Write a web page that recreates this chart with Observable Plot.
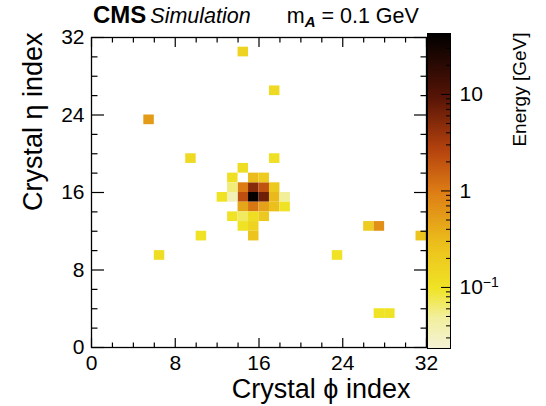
<!DOCTYPE html>
<html><head><meta charset="utf-8">
<script src="https://cdn.jsdelivr.net/npm/d3@7"></script>
<script src="https://cdn.jsdelivr.net/npm/@observablehq/plot@0.6"></script>
<style>
body{margin:0;background:#fff;}
#wrap{position:relative;z-index:0;width:546px;height:406px;font-family:"Liberation Sans",Arial,sans-serif;overflow:hidden;}
#wrap svg.under{position:absolute;top:0;z-index:-1;}
#hdr{position:absolute;left:93px;top:1px;display:flex;align-items:baseline;white-space:nowrap;color:#000;}
#hdr .cms{font-weight:bold;font-size:24px;}
#hdr .sim{font-style:italic;font-size:21.5px;margin-left:4px;}
#hdr .ma{font-size:21.5px;margin-left:36px;}
#hdr sub{font-size:15px;font-weight:bold;font-style:italic;vertical-align:-4px;}
</style></head><body>
<div id="wrap"><div id="hdr"><span class="cms">CMS</span><span class="sim">Simulation</span><span class="ma">m<sub>A</sub> = 0.1 GeV</span></div></div>
<script>
// ---- data ----
const phiIndex = [15,16,15,14,16,14,15,14,16,17,17,17,15,16,13,13,13,12,18,18,14,17,9,5,17,14,13,14,15,16,14,15,15,10,6,23,26,27,31,27,28];
const etaIndex = [15,15,16,15,16,16,14,14,14,15,16,14,17,17,17,16,15,15,15,14,18,19,19,23,26,30,13,13,13,13,12,12,11,11,9,9,12,12,11,3,3];
const energy   = [40,7,5,2.2,2.0,1.0,1.1,0.45,0.5,0.32,0.22,0.28,0.3,0.2,0.11,0.06,0.035,0.1,0.05,0.1,0.12,0.11,0.13,0.55,0.13,0.16,0.1,0.07,0.12,0.22,0.1,0.16,0.25,0.1,0.12,0.1,0.2,0.7,0.25,0.1,0.1];
const majorTicks = [0,8,16,24,32];
const minorTicks = [2,4,6,10,12,14,18,20,22,26,28,30];
const zDomain = [0.0233, 42.8];
const zMajor = [0.1,1,10];
const zMinor = [0.03,0.04,0.05,0.06,0.07,0.08,0.09,0.2,0.3,0.4,0.5,0.6,0.7,0.8,0.9,2,3,4,5,6,7,8,9,20,30,40];
const paletteStops = [0,0.1,0.19,0.33,0.5,0.63,0.8,1];
const paletteColors = ["#f4f2d6","#f2ef9c","#f0e426","#ecc01c","#dd7c15","#b5430e","#561406","#000000"];

const FONT = "Liberation Sans, Arial, sans-serif";
function interp(t){
  t = Math.max(0, Math.min(1, t));
  let k = 0;
  while (k < paletteStops.length - 2 && t > paletteStops[k+1]) k++;
  const u = (t - paletteStops[k]) / (paletteStops[k+1] - paletteStops[k]);
  return d3.interpolateRgb(paletteColors[k], paletteColors[k+1])(u);
}
const colorOpts = {type:"log", domain: zDomain, interpolate: () => interp, clamp: true};
const cells = phiIndex.map((p,i) => ({x1:p, x2:p+1, y1:etaIndex[i], y2:etaIndex[i]+1, e:energy[i]}));
const blank = () => "";
const STY = {fontFamily:FONT, background:"transparent", color:"#000"};
const mainDims = {width:546, height:406, marginLeft:91, marginRight:120, marginTop:37, marginBottom:59};
const barDims = {width:146, height:406, marginLeft:27, marginRight:96, marginTop:33, marginBottom:58};

const tickB = (data, len) => Plot.axisX(data, {anchor:"bottom", tickSize:len, dy:-len, tickFormat:blank, label:null, stroke:"#000", strokeWidth:1.2});
const tickT = (data, len) => Plot.axisX(data, {anchor:"top", tickSize:len, dy:len, tickFormat:blank, label:null, stroke:"#000", strokeWidth:1.2});
const tickL = (data, len) => Plot.axisY(data, {anchor:"left", tickSize:len, dx:len, tickFormat:blank, label:null, stroke:"#000", strokeWidth:1.2});
const tickR = (data, len) => Plot.axisY(data, {anchor:"right", tickSize:len, dx:-len, tickFormat:blank, label:null, stroke:"#000", strokeWidth:1.2});

// heat-map cells (under layer)
const cellsPlot = Plot.plot({
  ...mainDims, style:STY,
  x:{domain:[0,32], axis:null}, y:{domain:[0,32], axis:null},
  color: colorOpts,
  marks:[Plot.rect(cells, {x1:"x1", x2:"x2", y1:"y1", y2:"y2", fill:"e"})]
});
cellsPlot.classList.add("under"); cellsPlot.style.left = "0px";

// frame, ticks, labels
const axesPlot = Plot.plot({
  ...mainDims, style:STY,
  x:{domain:[0,32], axis:null}, y:{domain:[0,32], axis:null},
  marks:[
    tickB(minorTicks, 4.5), tickB(majorTicks, 9),
    tickT(minorTicks, 4.5), tickT(majorTicks, 9),
    tickL(minorTicks, 6.5), tickL(majorTicks, 13),
    tickR(minorTicks, 6.5), tickR(majorTicks, 13),
    Plot.axisX(majorTicks, {anchor:"bottom", tickSize:0, tickPadding:8, fontSize:21, label:null}),
    Plot.axisY(majorTicks, {anchor:"left", tickSize:0, tickPadding:7, fontSize:21, label:null}),
    Plot.frame({stroke:"#000", strokeWidth:1.3}),
    Plot.text(["Crystal \u03d5 index"], {text:d=>d, frameAnchor:"bottom-right", textAnchor:"end", dx:-16, dy:50, fontSize:27}),
    Plot.text(["Crystal \u03b7 index"], {text:d=>d, frameAnchor:"top-left", rotate:-90, textAnchor:"end", dx:-69, dy:-5, fontSize:27})
  ]
});
axesPlot.style.display = "block";

// colour bar gradient (under layer)
const barPlot = Plot.plot({
  ...barDims, style:STY,
  x:{domain:[0,1], axis:null}, y:{type:"log", domain:zDomain, axis:null},
  color: colorOpts,
  marks:[Plot.raster({x1:0, x2:1, y1:zDomain[0], y2:zDomain[1], fill:(x,y)=>y, pixelSize:1})]
});
barPlot.classList.add("under"); barPlot.style.left = "400px";

// colour bar frame, ticks, labels
const barAxes = Plot.plot({
  ...barDims, style:STY,
  x:{domain:[0,1], axis:null}, y:{type:"log", domain:zDomain, axis:null},
  marks:[
    Plot.axisY(zMinor, {anchor:"right", tickSize:5, dx:-5, tickFormat:blank, label:null, stroke:"#000"}),
    Plot.axisY(zMajor, {anchor:"right", tickSize:10, dx:-10, tickFormat:blank, label:null, stroke:"#000"}),
    Plot.axisY(zMajor, {anchor:"right", tickSize:0, tickPadding:9, fontSize:21, label:null,
      tickFormat: d => d === 0.1 ? "10^-1" : String(d)}),
    Plot.frame({stroke:"#000", strokeWidth:1}),
    Plot.text(["Energy [GeV]"], {text:d=>d, frameAnchor:"top-right", rotate:-90, textAnchor:"end", dx:62, dy:-1, fontSize:19})
  ]
});
barAxes.style.display = "block";
barAxes.style.marginTop = "-406px";
barAxes.style.marginLeft = "400px";

d3.select(barAxes).selectAll("text").each(function(){
  const t = d3.select(this);
  if (t.text() === "10^-1") {
    t.text("10");
    t.append("tspan").attr("dy","-0.5em").attr("font-size","14px").text("\u22121");
  }
});

const wrap = document.getElementById("wrap");
const hdr = document.getElementById("hdr");
wrap.insertBefore(cellsPlot, hdr);
wrap.insertBefore(barPlot, hdr);
wrap.insertBefore(axesPlot, hdr);
wrap.insertBefore(barAxes, hdr);
</script>
</body></html>
